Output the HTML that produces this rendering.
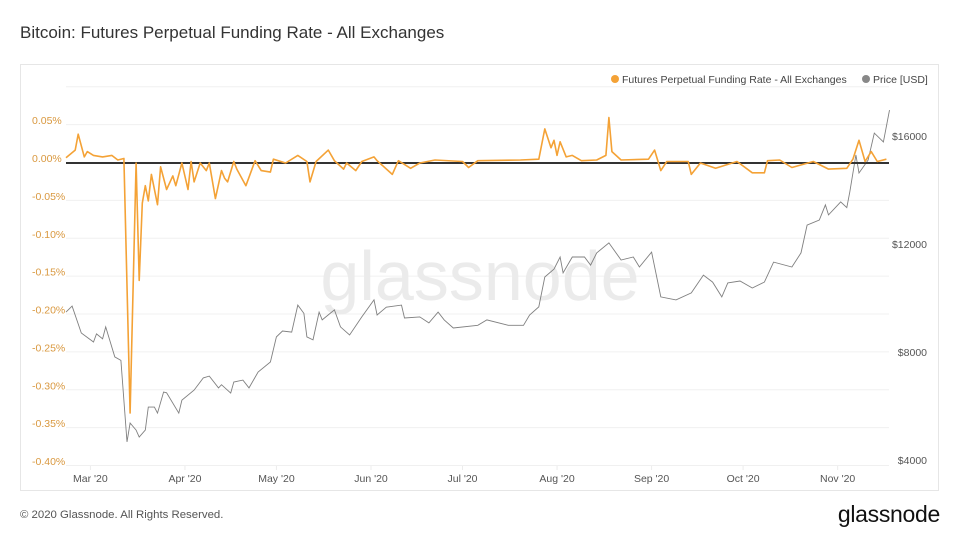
<!DOCTYPE html>
<html><head><meta charset="utf-8">
<style>
html,body{margin:0;padding:0;background:#fff;}
body{width:960px;height:540px;overflow:hidden;font-family:"Liberation Sans",sans-serif;position:relative;}
.title{position:absolute;left:20px;top:23px;font-size:17px;color:#333;}
.card{position:absolute;left:20px;top:64px;width:919px;height:427px;border:1px solid #e6e6e6;box-sizing:border-box;}
.footer{position:absolute;left:20px;top:509px;font-size:11.4px;color:#555;}
.logo{position:absolute;right:20px;top:501px;font-size:23px;color:#111;letter-spacing:-0.3px;}
svg{position:absolute;left:0;top:0;}
</style></head><body>
<div class="title">Bitcoin: Futures Perpetual Funding Rate - All Exchanges</div>
<div class="card"></div>
<svg id="chart" width="960" height="540"></svg>
<div class="footer">© 2020 Glassnode. All Rights Reserved.</div>
<div class="logo">glassnode</div>
<script>
// day offsets from 2020-02-22
const fundDays=[0,3,4,6,7,9,12,15,17,19,21,23,24,25,26,27,28,30,31,33,35,36,38,40,41,42,44,46,47,49,51,52,53,55,56,59,62,64,67,68,72,76,79,80,82,86,88,91,92,95,97,101,102,107,109,113,116,121,130,132,135,149,155,157,159,160,161,162,164,166,169,174,177,178,179,182,191,193,195,197,204,205,208,213,220,225,229,230,234,238,245,250,256,258,260,262,264,266,269];
const fundVals=[.007,.017,.038,.008,.015,.01,.008,.01,.004,.006,-.33,0,-.155,-.053,-.03,-.05,-.015,-.055,-.005,-.035,-.017,-.03,0,-.035,.002,-.025,0,-.01,0,-.047,-.01,-.02,-.025,.002,-.008,-.03,.003,-.01,-.012,.005,0,.01,.002,-.025,.002,.017,.003,-.008,0,-.01,.002,.008,.003,-.015,.003,-.007,0,.004,.002,-.006,.003,.004,.005,.045,.02,.03,.01,.028,.008,.01,.003,.004,.01,.06,.015,.004,.005,.017,-.01,.002,.002,-.015,0,-.007,.002,-.013,-.013,.003,.004,-.006,.002,-.008,-.007,.005,.03,.002,.015,.002,.005];
const priceDays=[0,2,5,9,10,12,13,16,18,20,21,23,24,26,27,29,30,32,33,37,38,42,45,47,50,51,54,55,58,60,63,67,69,71,74,76,78,79,81,83,84,88,90,93,97,101,102,105,110,111,116,119,122,124,127,135,138,145,150,152,155,157,160,162,163,166,170,172,174,178,182,186,188,192,195,200,205,209,212,215,217,221,225,229,232,238,241,243,247,249,250,254,256,257,259,260,263,265,268,270];
const priceVals=[9590,9810,8815,8480,8780,8600,9040,7930,7800,4780,5480,5220,4960,5220,6070,6070,5850,6630,6600,5850,6330,6700,7150,7220,6780,6900,6590,7000,7070,6780,7370,7740,8670,8890,8850,9850,9540,8670,8560,9590,9300,9670,9040,8740,9410,10040,9480,9770,9850,9370,9410,9190,9590,9300,9000,9100,9300,9100,9100,9480,9780,10890,11180,11630,11040,11630,11630,11330,11780,12150,11520,11630,11260,11810,10150,10040,10300,10960,10700,10150,10670,10740,10480,10700,11440,11260,11780,12810,13000,13560,13190,13670,13460,14040,15410,14740,15220,16220,15890,17070];
const leftTicks=[0.05,0,-0.05,-0.10,-0.15,-0.20,-0.25,-0.30,-0.35,-0.40];
const leftLabels=["0.05%","0.00%","-0.05%","-0.10%","-0.15%","-0.20%","-0.25%","-0.30%","-0.35%","-0.40%"];
const rightTicks=[16000,12000,8000,4000];
const rightLabels=["$16000","$12000","$8000","$4000"];
const monthDays=[8,39,69,100,130,161,192,222,253];
const monthLabels=["Mar '20","Apr '20","May '20","Jun '20","Jul '20","Aug '20","Sep '20","Oct '20","Nov '20"];

const X0=66,X1=889;
const xS=d=>X0+d*3.05;
const yL=v=>163-v*(303/0.40);
const yR=p=>463-(p-4000)*0.027;
const svg=document.getElementById('chart');
const NS='http://www.w3.org/2000/svg';
function mk(tag,attrs,parent){const e=document.createElementNS(NS,tag);for(const k in attrs)e.setAttribute(k,attrs[k]);(parent||svg).appendChild(e);return e;}

leftTicks.concat([0.10]).forEach(v=>{
  const g=mk('line',{x1:X0,x2:X1,y1:yL(v)-0.5,y2:yL(v)-0.5,stroke:'#f0f0f0','stroke-width':1});
  
  
});
monthDays.forEach(d=>{
  const g=mk('line',{x1:xS(d),x2:xS(d),y1:466,y2:470,stroke:'#ececec'});
  
  
});
const wm=mk('text',{x:480,y:300,'text-anchor':'middle','font-size':70,fill:'#ebebeb','font-family':'Liberation Sans, sans-serif'});
wm.textContent='glassnode';



leftTicks.forEach((v,i)=>{
  const t=mk('text',{x:32,y:yL(v)-1,'font-size':10.5,fill:'#d9983f','font-family':'Liberation Sans, sans-serif'});
  t.textContent=leftLabels[i];
  
  
});
rightTicks.forEach((v,i)=>{
  const t=mk('text',{x:927,y:yR(v)+1,'font-size':10.5,fill:'#555','text-anchor':'end','font-family':'Liberation Sans, sans-serif'});
  t.textContent=rightLabels[i];
  
  
});
monthDays.forEach((d,i)=>{
  const t=mk('text',{x:xS(d),y:482,'font-size':10.5,fill:'#555','text-anchor':'middle','font-family':'Liberation Sans, sans-serif'});
  t.textContent=monthLabels[i];
  
  
});

const pp=mk('path',{d:priceDays.map((d,i)=>(i?'L':'M')+xS(d).toFixed(1)+','+yR(priceVals[i]).toFixed(1)).join(''),fill:'none',stroke:'#808080','stroke-width':0.9});


const z=mk('line',{x1:X0,x2:X1,y1:yL(0),y2:yL(0),stroke:'#333','stroke-width':2});


const fp=mk('path',{d:fundDays.map((d,i)=>(i?'L':'M')+xS(d).toFixed(1)+','+yL(fundVals[i]).toFixed(1)).join(''),fill:'none',stroke:'#f4a236','stroke-width':1.6,'stroke-linejoin':'round'});



const l1=mk('circle',{cx:615,cy:79,r:4,fill:'#f4a236'});


const t1=mk('text',{x:622,y:83,'font-size':10.5,fill:'#444','font-family':'Liberation Sans, sans-serif'});
t1.textContent='Futures Perpetual Funding Rate - All Exchanges';


const l2=mk('circle',{cx:866,cy:79,r:4,fill:'#888'});


const t2=mk('text',{x:873,y:83,'font-size':10.5,fill:'#444','font-family':'Liberation Sans, sans-serif'});
t2.textContent='Price [USD]';


</script>
</body></html>
